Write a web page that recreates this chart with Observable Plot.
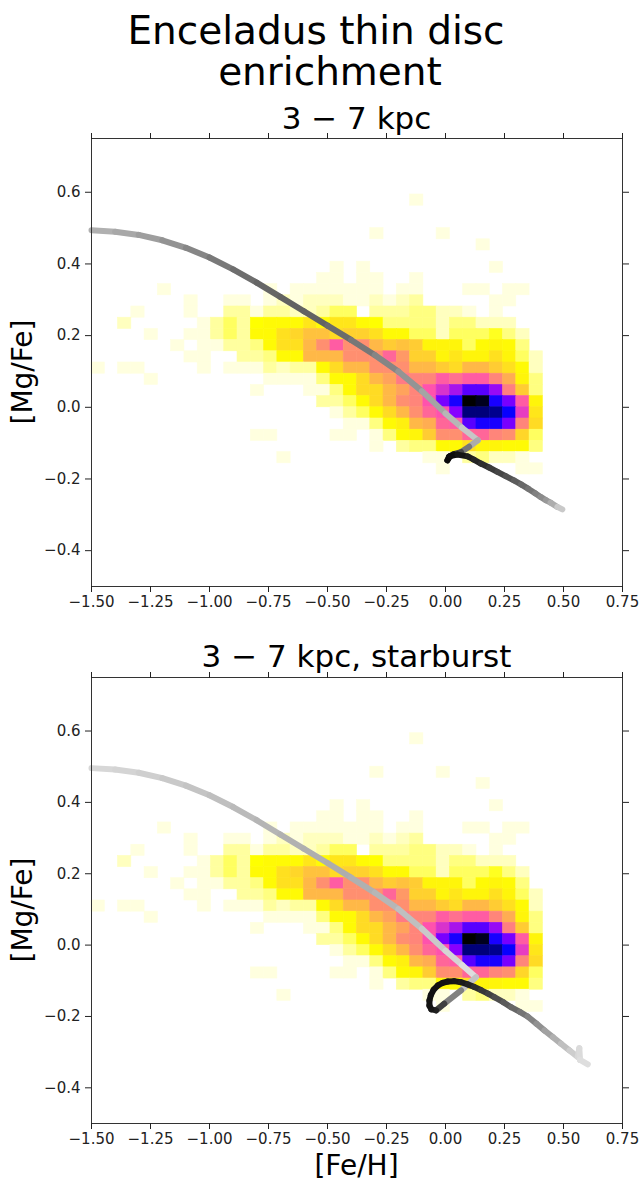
<!DOCTYPE html>
<html><head><meta charset="utf-8">
<script src="https://cdn.jsdelivr.net/npm/d3@7"></script>
<script src="https://cdn.jsdelivr.net/npm/@observablehq/plot@0.6"></script>
<style>
body{margin:0;background:#fff;}
#fig{position:relative;width:639px;height:1183px;overflow:hidden;background:#fff;}
#fig > svg{position:absolute;left:0;}
#overlay{top:0;pointer-events:none;}
</style></head><body><div id="fig"></div>
<script>
// ---------------- data ----------------
const feTicks = [-1.5, -1.25, -1.0, -0.75, -0.5, -0.25, 0.0, 0.25, 0.5, 0.75];
const mgTicks = [-0.4, -0.2, 0.0, 0.2, 0.4, 0.6];
const feDomain = [-1.5, 0.75];
const mgDomain = [-0.5, 0.75];

// 2D histogram of stars: bins in [Fe/H] start at -1.5 (width 0.05625), in [Mg/Fe] start at -0.5 (height 0.03125)
const feBinStart = -1.5, feBinWidth = 0.05625;
const mgBinStart = -0.5, mgBinHeight = 0.03125;
// row index (in [Mg/Fe] bins) for each row of counts below; counts are per [Fe/H] column 0..33
const histRowIndex = [34, 31, 30, 28, 27, 26, 25, 24, 23, 22, 21, 20, 19, 18, 17, 16, 15, 14, 13, 12, 11, 10];
const histCounts = [
  [0,0,0,0,0,0,0,0,0,0, 0,0,0,0,0,0,0,0,0,0, 0,0,0,0,1,0,0,0,0,0, 0,0,0,0],
  [0,0,0,0,0,0,0,0,0,0, 0,0,0,0,0,0,0,0,0,0, 0,1,0,0,0,0,1,0,0,0, 0,0,0,0],
  [0,0,0,0,0,0,0,0,0,0, 0,0,0,0,0,0,0,0,0,0, 0,0,0,0,0,0,0,0,0,1, 0,0,0,0],
  [0,0,0,0,0,0,0,0,0,0, 0,0,0,0,0,0,0,0,1,0, 1,0,0,0,0,0,0,0,0,0, 1,0,0,0],
  [0,0,0,0,0,0,0,0,0,0, 0,0,0,0,0,0,0,1,1,0, 1,1,0,0,1,0,0,0,0,0, 0,0,0,0],
  [0,0,0,0,0,1,0,0,0,0, 0,0,0,1,0,1,1,1,1,1, 1,1,0,1,1,0,0,0,1,1, 0,1,1,0],
  [0,0,0,0,0,0,0,1,0,0, 1,1,0,1,2,1,2,2,2,1, 1,2,1,2,3,0,0,0,0,0, 1,1,0,0],
  [0,0,0,1,0,0,0,1,0,0, 3,3,1,3,3,2,2,3,5,5, 0,3,3,3,4,4,2,2,1,0, 1,0,0,0],
  [0,0,2,0,0,0,0,0,1,3, 5,3,8,9,9,9,13,9,13,13, 9,8,4,4,4,4,2,4,4,2, 2,2,0,0],
  [0,0,0,0,1,0,0,1,1,3, 5,3,9,9,14,16,20,20,15,17, 17,14,9,9,5,5,2,5,5,5, 7,4,2,0],
  [0,0,0,0,0,0,1,0,1,1, 3,3,4,9,14,14,22,30,40,30, 30,22,18,20,18,10,10,10,5,9, 10,9,4,0],
  [0,0,0,0,0,0,0,1,1,0, 0,3,3,4,9,9,22,22,22,30, 30,30,38,28,17,17,10,13,10,10, 14,10,5,2],
  [1,0,1,1,0,0,0,0,1,0, 1,1,1,3,2,3,3,9,15,22, 22,30,30,30,22,22,18,15,22,22, 18,14,9,2],
  [0,0,0,0,1,0,0,0,0,0, 0,0,0,1,1,1,1,4,9,9, 15,22,26,34,32,32,40,36,40,40, 32,24,10,4],
  [0,0,0,0,0,0,0,0,0,0, 0,0,1,0,0,0,1,1,4,9, 15,15,22,26,32,42,48,54,64,64, 56,33,18,4],
  [0,0,0,0,0,0,0,0,0,0, 0,0,0,0,0,0,0,3,3,5, 9,15,22,30,32,42,60,72,100,97, 72,60,40,10],
  [0,0,0,0,0,0,0,0,0,0, 0,0,0,0,0,0,0,0,1,3, 5,9,15,22,30,38,42,58,88,88, 86,74,46,13],
  [0,0,0,0,0,0,0,0,0,0, 0,0,0,0,0,0,0,0,0,1, 1,4,9,11,22,24,38,40,64,72, 72,60,32,15],
  [0,0,0,0,0,0,0,0,0,0, 0,0,1,1,0,0,0,0,1,1, 0,1,4,9,10,18,30,30,38,38, 32,30,16,5],
  [0,0,0,0,0,0,0,0,0,0, 0,0,0,0,0,0,0,0,0,0, 0,1,0,3,4,4,9,9,14,10, 10,9,9,4],
  [0,0,0,0,0,0,0,0,0,0, 0,0,0,0,1,0,0,0,0,0, 0,0,0,0,0,1,1,0,3,4, 2,2,1,0],
  [0,0,0,0,0,0,0,0,0,0, 0,0,0,0,0,0,0,0,0,0, 0,0,0,0,0,0,1,0,0,0, 0,0,1,1]
];

// Model track, panel 1 (shade: 0 = black, 1 = white)
const trackAFe = [-1.50,-1.40,-1.30,-1.20,-1.10,-1.00,-0.90,-0.80,-0.70,-0.60,-0.50,-0.40,-0.30,-0.20,-0.10,0.00,0.07,0.137,
  0.10,0.066,0.035,0.015,0.008,0.02,0.05,0.094,0.12,0.15,0.185,0.22,0.255,0.29,0.32,0.35,0.38,0.403,0.425,0.445,0.474,0.495];
const trackAMg = [0.494,0.490,0.481,0.466,0.445,0.418,0.385,0.348,0.308,0.268,0.228,0.188,0.146,0.100,0.045,-0.017,-0.057,-0.092,
  -0.110,-0.125,-0.131,-0.138,-0.148,-0.136,-0.132,-0.137,-0.146,-0.157,-0.168,-0.180,-0.192,-0.204,-0.215,-0.227,-0.240,-0.250,-0.259,-0.266,-0.278,-0.285];
const trackAShade = [0.70,0.68,0.64,0.60,0.55,0.50,0.45,0.41,0.39,0.38,0.40,0.44,0.49,0.55,0.61,0.68,0.75,0.80,
  0.55,0.38,0.15,0.06,0.04,0.04,0.06,0.10,0.13,0.16,0.21,0.25,0.30,0.34,0.39,0.43,0.48,0.52,0.57,0.62,0.74,0.84];

// Model track, panel 2 (starburst)
const trackBFe = [-1.50,-1.40,-1.30,-1.20,-1.10,-1.00,-0.90,-0.80,-0.70,-0.60,-0.50,-0.40,-0.30,-0.20,-0.10,0.00,0.07,0.129,
  0.066,-0.005,-0.04,-0.06,-0.068,-0.068,-0.062,-0.05,-0.032,-0.012,0.01,0.037,0.065,0.094,0.12,0.15,0.18,0.207,0.245,0.278,0.315,0.348,0.385,0.419,0.455,0.489,0.525,0.56,0.567,0.57,0.603];
const trackBMg = [0.496,0.492,0.483,0.468,0.447,0.420,0.387,0.350,0.310,0.270,0.230,0.189,0.147,0.101,0.046,-0.016,-0.056,-0.090,
  -0.127,-0.164,-0.183,-0.180,-0.170,-0.155,-0.140,-0.125,-0.113,-0.106,-0.102,-0.101,-0.104,-0.110,-0.117,-0.126,-0.136,-0.146,-0.160,-0.174,-0.187,-0.200,-0.220,-0.239,-0.258,-0.276,-0.295,-0.313,-0.289,-0.322,-0.334];
const trackBShade = [0.85,0.84,0.82,0.80,0.78,0.76,0.74,0.72,0.70,0.69,0.68,0.68,0.70,0.73,0.77,0.81,0.85,0.88,
  0.65,0.35,0.15,0.10,0.08,0.07,0.07,0.07,0.07,0.07,0.08,0.08,0.09,0.12,0.15,0.20,0.24,0.28,0.33,0.38,0.43,0.48,0.54,0.60,0.66,0.72,0.78,0.83,0.86,0.86,0.88];

// ---------------- helpers ----------------
function gnuplot2r(t) {
  const cl = v => Math.max(0, Math.min(1, v));
  const x = 1 - cl(t);
  const r = cl(x / 0.32 - 0.78125);
  const g = cl(2 * x - 0.84);
  const b = cl(x < 0.25 ? 4 * x : x < 0.42 ? 1 : x < 0.92 ? -2 * x + 1.84 : x / 0.08 - 11.5);
  return `rgb(${Math.round(r * 255)},${Math.round(g * 255)},${Math.round(b * 255)})`;
}
const gray = d3.scaleLinear([0, 1], ["#000000", "#ffffff"]).interpolate(d3.interpolateRgb);

const cells = [];
histRowIndex.forEach((j, r) => {
  histCounts[r].forEach((count, c) => {
    if (count > 0) cells.push({
      fe1: feBinStart + c * feBinWidth, fe2: feBinStart + (c + 1) * feBinWidth,
      mg1: mgBinStart + j * mgBinHeight, mg2: mgBinStart + (j + 1) * mgBinHeight, count
    });
  });
});

function segments(fe, mg, shade) {
  const out = [];
  for (let i = 0; i < fe.length - 1; i++) {
    out.push({fe1: fe[i], mg1: mg[i], fe2: fe[i + 1], mg2: mg[i + 1], shade: (shade[i] + shade[i + 1]) / 2});
  }
  return out;
}

const fmtX = d3.format(".2f");
const fmtY = d3.format(".1f");

function panel(segs, svgTop, marginTop, frameH) {
  const marginBottom = 34;
  const p = Plot.plot({
    width: 639,
    height: marginTop + frameH + marginBottom,
    marginLeft: 91, marginRight: 17, marginTop, marginBottom,
    style: {fontFamily: "'DejaVu Sans', sans-serif", fontSize: "15px", color: "#000", background: "transparent"},
    x: {domain: feDomain},
    y: {domain: mgDomain},
    color: {type: "linear", domain: [0, 100], interpolate: gnuplot2r},
    marks: [
      Plot.rect(cells, {x1: "fe1", x2: "fe2", y1: "mg1", y2: "mg2", fill: "count", stroke: "count", strokeWidth: 0.6}),
      Plot.link(segs, {x1: "fe1", y1: "mg1", x2: "fe2", y2: "mg2",
        stroke: {value: d => gray(d.shade), scale: null}, strokeWidth: 6, strokeLinecap: "round"}),
      Plot.frame({stroke: "#333", strokeWidth: 1}),
      Plot.axisX({anchor: "bottom", ticks: feTicks, tickFormat: fmtX, tickSize: 6, tickPadding: 4, label: null, color: "#222"}),
      Plot.axisX({anchor: "top", ticks: feTicks, tickFormat: () => "", tickSize: 6, label: null, color: "#222"}),
      Plot.axisY({anchor: "left", ticks: mgTicks, tickFormat: fmtY, tickSize: 6, tickPadding: 5, label: null, color: "#222"}),
      Plot.axisY({anchor: "right", ticks: mgTicks, tickFormat: () => "", tickSize: 6, label: null, color: "#222"})
    ]
  });
  p.style.top = svgTop + "px";
  return p;
}

const fig = document.getElementById("fig");
fig.appendChild(panel(segments(trackAFe, trackAMg, trackAShade), 128, 10, 448));
fig.appendChild(panel(segments(trackBFe, trackBMg, trackBShade), 667, 10, 446));

// text overlay
const ov = d3.select(fig).append("svg").attr("id", "overlay")
  .attr("width", 639).attr("height", 1183)
  .style("font-family", "'DejaVu Sans', sans-serif");
const texts = [
  {t: "Enceladus thin disc", x: 316, y: 44, s: 39},
  {t: "enrichment", x: 330, y: 85, s: 39},
  {t: "3 \u2212 7 kpc", x: 356.5, y: 129, s: 31},
  {t: "3 \u2212 7 kpc, starburst", x: 356.5, y: 667, s: 31},
  {t: "[Fe/H]", x: 356.5, y: 1175, s: 28}
];
texts.forEach(d => ov.append("text").attr("x", d.x).attr("y", d.y).attr("text-anchor", "middle")
  .attr("font-size", d.s).attr("fill", "#000").text(d.t));
[372, 910].forEach(cy => ov.append("text")
  .attr("transform", `translate(32,${cy}) rotate(-90)`)
  .attr("text-anchor", "middle").attr("font-size", 28).attr("fill", "#000").text("[Mg/Fe]"));
</script></body></html>
